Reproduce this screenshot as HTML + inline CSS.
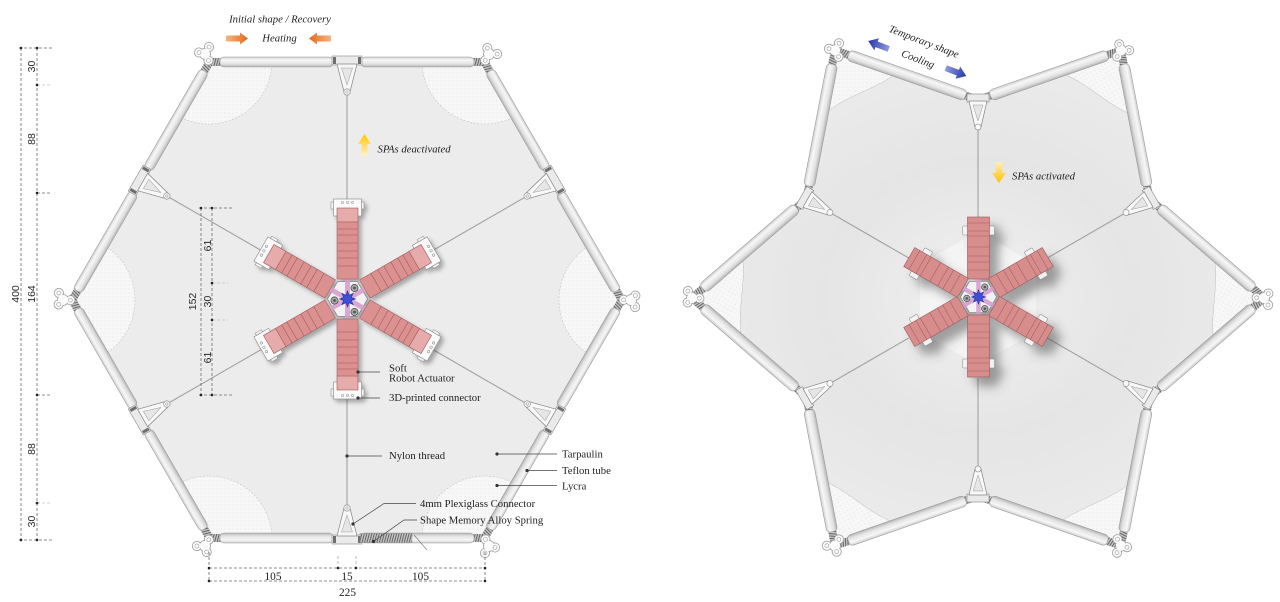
<!DOCTYPE html>
<html><head><meta charset="utf-8"><style>
html,body{margin:0;padding:0;background:#fff;}
svg{display:block}
.lab{font-family:"Liberation Serif",serif;font-size:10.7px;fill:#1e1e1e}
.it{font-style:italic}
.dim{font-family:"Liberation Sans",sans-serif;font-size:10.5px;fill:#2a2a2a}
.dn{font-family:"Liberation Serif",serif;font-size:11.3px;fill:#1e1e1e}
</style></head><body>
<svg width="1280" height="602" viewBox="0 0 1280 602" xmlns="http://www.w3.org/2000/svg">
<defs>
<linearGradient id="tube" x1="0" y1="0" x2="0" y2="1">
 <stop offset="0" stop-color="#cfcfcf"/><stop offset=".3" stop-color="#f7f7f7"/><stop offset=".7" stop-color="#e2e2e2"/><stop offset="1" stop-color="#b2b2b2"/>
</linearGradient>
<pattern id="hatch" width="2.4" height="12" patternUnits="userSpaceOnUse" patternTransform="rotate(15)">
 <rect width="2.4" height="12" fill="#c4c4c4"/><rect width="0.9" height="12" fill="#5a5a5a"/>
</pattern>
<pattern id="lyc" width="4" height="4" patternUnits="userSpaceOnUse">
 <rect width="4" height="4" fill="#f7f7f7"/><circle cx="1" cy="1" r="0.6" fill="#e6e6e6"/>
</pattern>
<linearGradient id="orR" x1="0" y1="0" x2="1" y2="0"><stop offset="0" stop-color="#f6b482"/><stop offset="1" stop-color="#e5691a"/></linearGradient>
<linearGradient id="orL" x1="1" y1="0" x2="0" y2="0"><stop offset="0" stop-color="#f6b482"/><stop offset="1" stop-color="#e5691a"/></linearGradient>
<linearGradient id="yUp" x1="0" y1="0" x2="0" y2="1"><stop offset="0" stop-color="#ffc400"/><stop offset="1" stop-color="#fff4c8"/></linearGradient>
<linearGradient id="yDn" x1="0" y1="0" x2="0" y2="1"><stop offset="0" stop-color="#fff0b8"/><stop offset="1" stop-color="#ffbf00"/></linearGradient>
<linearGradient id="blu" x1="0" y1="0" x2="1" y2="0"><stop offset="0" stop-color="#8e9be0"/><stop offset="1" stop-color="#2436a8"/></linearGradient>
<radialGradient id="memR" cx="0.5" cy="0.5" r="0.5"><stop offset="0" stop-color="#f0f0f0"/><stop offset="0.55" stop-color="#e5e5e5"/><stop offset="1" stop-color="#ebebeb"/></radialGradient>
<filter id="shL" x="-20%" y="-20%" width="140%" height="140%"><feDropShadow dx="3" dy="3" stdDeviation="2" flood-color="#000" flood-opacity="0.3"/></filter>
<filter id="shR" x="-30%" y="-30%" width="160%" height="160%"><feDropShadow dx="9" dy="9" stdDeviation="5" flood-color="#444" flood-opacity="0.5"/></filter>
<clipPath id="hexclip"><polygon points="623,300 485,61 209,61 71,300 209,539 485,539"/></clipPath>

<g id="lobe">
 <g fill="#fbfbfb" stroke="#9a9a9a" stroke-width="0.8">
  <circle cx="-6" cy="-1.5" r="4.6"/><circle cx="4" cy="-7" r="4.6"/><circle cx="3.5" cy="6.5" r="4.6"/><circle r="5.5"/>
 </g>
 <g fill="#fbfbfb"><circle cx="-6" cy="-1.5" r="3.9"/><circle cx="4" cy="-7" r="3.9"/><circle cx="3.5" cy="6.5" r="3.9"/><circle r="5"/></g>
 <g fill="none" stroke="#9a9a9a" stroke-width="0.6"><circle cx="-6" cy="-1.5" r="2"/><circle cx="4" cy="-7" r="2"/><circle cx="3.5" cy="6.5" r="2"/></g>
</g>

<g id="Ls">
 <line x1="0" y1="-206" x2="0" y2="-99" stroke="#a2a2a2" stroke-width="1.1"/>
 <rect x="-137" y="-242" width="11" height="8" fill="url(#hatch)"/>
 <rect x="126" y="-242" width="11" height="8" fill="url(#hatch)"/>
 <rect x="-127" y="-243" width="113" height="10" rx="4" fill="url(#tube)" stroke="#9c9c9c" stroke-width="0.6"/>
 <rect x="14" y="-243" width="113" height="10" rx="4" fill="url(#tube)" stroke="#9c9c9c" stroke-width="0.6"/>
 <rect x="-15" y="-244" width="30" height="9" fill="#eaeaea" stroke="#858585" stroke-width="0.6"/>
 <rect x="-14" y="-243" width="3" height="7" fill="#6e6e6e"/>
 <rect x="11" y="-243" width="3" height="7" fill="#6e6e6e"/>
 <path d="M-10,-236 L10,-236 L3.2,-209 L-3.2,-209 Z" fill="#f8f8f8" stroke="#858585" stroke-width="0.7"/>
 <path d="M-5.5,-232 L5.5,-232 L0,-215 Z" fill="#e6e6e6" stroke="#9a9a9a" stroke-width="0.5"/>
 <circle cx="0" cy="-208" r="3.2" fill="#f8f8f8" stroke="#858585" stroke-width="0.6"/>
 <circle cx="0" cy="-208" r="1.2" fill="none" stroke="#858585" stroke-width="0.5"/>
</g>

<g id="La">
 <rect x="-14" y="-100" width="28" height="17" fill="#fafafa" stroke="#868686" stroke-width="0.6"/>
 <rect x="-16.5" y="-97" width="2.5" height="7" fill="#f3f3f3" stroke="#868686" stroke-width="0.5"/>
 <rect x="14" y="-97" width="2.5" height="7" fill="#f3f3f3" stroke="#868686" stroke-width="0.5"/>
 <g fill="none" stroke="#808080" stroke-width="0.5"><circle cx="-5" cy="-96.5" r="1.2"/><circle cx="0" cy="-96.5" r="1.2"/><circle cx="5" cy="-96.5" r="1.2"/></g>
 <rect x="-10.5" y="-91" width="21" height="71" fill="#dc9191" stroke="#a06060" stroke-width="0.6"/>
 <rect x="-10" y="-90.5" width="20" height="13" fill="#e6acac"/>
 <g stroke="#9a5454" stroke-width="0.55">
  <line x1="-10.5" y1="-77" x2="10.5" y2="-77"/>
  <line x1="-10.5" y1="-70" x2="10.5" y2="-70"/>
  <line x1="-10.5" y1="-64" x2="10.5" y2="-64"/>
  <line x1="-10.5" y1="-56" x2="10.5" y2="-56"/>
  <line x1="-10.5" y1="-48" x2="10.5" y2="-48"/>
  <line x1="-10.5" y1="-41" x2="10.5" y2="-41"/>
  <line x1="-10.5" y1="-33" x2="10.5" y2="-33"/>
 </g>
</g>

<g id="Rs">
 <line x1="0" y1="-170" x2="0" y2="-80" stroke="#a2a2a2" stroke-width="1.1"/>
 <g transform="translate(-71,-222.7) rotate(19.16)">
  <rect x="-71" y="-4" width="10" height="8" fill="url(#hatch)"/>
  <rect x="61" y="-4" width="9" height="8" fill="url(#hatch)"/>
  <rect x="-62" y="-5.5" width="124" height="11" rx="4" fill="url(#tube)" stroke="#9c9c9c" stroke-width="0.6"/>
 </g>
 <g transform="translate(71,-222.7) rotate(-19.16)">
  <rect x="-70" y="-4" width="9" height="8" fill="url(#hatch)"/>
  <rect x="61" y="-4" width="10" height="8" fill="url(#hatch)"/>
  <rect x="-62" y="-5.5" width="124" height="11" rx="4" fill="url(#tube)" stroke="#9c9c9c" stroke-width="0.6"/>
 </g>
 <rect x="-11" y="-204" width="22" height="8" fill="#eaeaea" stroke="#858585" stroke-width="0.6"/>
 <path d="M-9,-197 L9,-197 L3,-171 L-3,-171 Z" fill="#f8f8f8" stroke="#858585" stroke-width="0.7"/>
 <path d="M-5,-193 L5,-193 L0,-177 Z" fill="#e6e6e6" stroke="#9a9a9a" stroke-width="0.5"/>
 <circle cx="0" cy="-171" r="3" fill="#f8f8f8" stroke="#858585" stroke-width="0.6"/>
</g>

<g id="Rl">
 <path d="M-142,-246 L-81.4,-225.5 C-98,-210 -132,-203 -154.6,-183.2 Z" fill="url(#lyc)" stroke="#bdbdbd" stroke-width="0.5"/>
</g>

<g id="Ra">
 <rect x="-16" y="-71" width="32" height="9" rx="1" fill="#f2f2f2" stroke="#858585" stroke-width="0.5"/>
 <rect x="-11" y="-80" width="22" height="62" fill="#d88d8d" stroke="#9a5858" stroke-width="0.6"/>
 <g stroke="#a35e5e" stroke-width="0.6">
  <line x1="-11" y1="-74" x2="11" y2="-74"/>
  <line x1="-11" y1="-66" x2="11" y2="-66"/>
  <line x1="-11" y1="-61" x2="11" y2="-61"/>
  <line x1="-11" y1="-50" x2="11" y2="-50"/>
  <line x1="-11" y1="-41" x2="11" y2="-41"/>
  <line x1="-11" y1="-35" x2="11" y2="-35"/>
  <line x1="-11" y1="-27" x2="11" y2="-27"/>
 </g>
</g>

<g id="hub">
 <polygon points="20,0 10,17.3 -10,17.3 -20,0 -10,-17.3 10,-17.3" fill="#f3f1f4" stroke="#7a7a7a" stroke-width="0.7"/>
 <g stroke="#d59ccd" stroke-width="5" opacity="0.85">
  <line x1="0" y1="-19" x2="0" y2="19"/>
  <line x1="-16.5" y1="-9.5" x2="16.5" y2="9.5"/>
  <line x1="-16.5" y1="9.5" x2="16.5" y2="-9.5"/>
 </g>
 <g fill="#a8a8a8" stroke="#444" stroke-width="0.7">
  <circle cx="7" cy="-11" r="3.6"/><circle cx="-13" cy="1.5" r="3.6"/><circle cx="7" cy="13" r="3.6"/>
 </g>
 <g fill="#555"><circle cx="7" cy="-11" r="1.4"/><circle cx="-13" cy="1.5" r="1.4"/><circle cx="7" cy="13" r="1.4"/></g>
 <polygon points="8,0 3.7,1.53 5.66,5.66 1.53,3.7 0,8 -1.53,3.7 -5.66,5.66 -3.7,1.53 -8,0 -3.7,-1.53 -5.66,-5.66 -1.53,-3.7 0,-8 1.53,-3.7 5.66,-5.66 3.7,-1.53" fill="#3e4fd6" stroke="#222f9a" stroke-width="0.6"/>
</g>
</defs>

<rect width="1280" height="602" fill="#fff"/>

<!-- ================= LEFT FIGURE ================= -->
<polygon points="623,300 485,61 209,61 71,300 209,539 485,539" fill="#ececec"/>
<g clip-path="url(#hexclip)" fill="url(#lyc)" stroke="#c4c4c4" stroke-width="0.6" stroke-dasharray="2,1.5">
 <circle cx="623" cy="300" r="64"/>
 <circle cx="485" cy="61" r="63"/>
 <circle cx="209" cy="61" r="63"/>
 <circle cx="71" cy="300" r="64"/>
 <circle cx="209" cy="539" r="63"/>
 <circle cx="485" cy="539" r="63"/>
</g>
<use href="#Ls" transform="translate(347,300)"/>
<use href="#Ls" transform="translate(347,300) rotate(60)"/>
<use href="#Ls" transform="translate(347,300) rotate(120)"/>
<use href="#Ls" transform="translate(347,300) rotate(180)"/>
<use href="#Ls" transform="translate(347,300) rotate(240)"/>
<use href="#Ls" transform="translate(347,300) rotate(300)"/>
<!-- SMA spring -->
<rect x="360" y="533.5" width="52" height="9" fill="url(#hatch)" stroke="#888" stroke-width="0.4"/>
<line x1="414" y1="535" x2="427" y2="550" stroke="#777" stroke-width="0.6"/>

<use href="#lobe" transform="translate(347,300) translate(-142,-246)"/>
<use href="#lobe" transform="translate(347,300) rotate(60) translate(-142,-246)"/>
<use href="#lobe" transform="translate(347,300) rotate(120) translate(-142,-246)"/>
<use href="#lobe" transform="translate(347,300) rotate(180) translate(-142,-246)"/>
<use href="#lobe" transform="translate(347,300) rotate(240) translate(-142,-246)"/>
<use href="#lobe" transform="translate(347,300) rotate(300) translate(-142,-246)"/>

<g filter="url(#shL)">
 <use href="#La" transform="translate(347.5,299)"/>
 <use href="#La" transform="translate(347.5,299) rotate(60)"/>
 <use href="#La" transform="translate(347.5,299) rotate(120)"/>
 <use href="#La" transform="translate(347.5,299) rotate(180)"/>
 <use href="#La" transform="translate(347.5,299) rotate(240)"/>
 <use href="#La" transform="translate(347.5,299) rotate(300)"/>
 <use href="#hub" transform="translate(347.5,299)"/>
</g>

<!-- top annotations -->
<text class="lab it" x="280" y="22.5" text-anchor="middle" font-size="10">Initial shape / Recovery</text>
<text class="lab it" x="279.5" y="41.5" text-anchor="middle" font-size="10">Heating</text>
<path d="M226,35.5 H240 V32.5 L248,38.5 L240,44.5 V41.5 H226 Z" fill="url(#orR)"/>
<path d="M331,35.5 H317 V32.5 L309,38.5 L317,44.5 V41.5 H331 Z" fill="url(#orL)"/>
<path d="M358,144 L364.5,134 L371,144 L367.5,144 L367.5,156 L361.5,156 L361.5,144 Z" fill="url(#yUp)"/>
<text class="lab it" x="377.5" y="152.5" font-size="10">SPAs deactivated</text>

<!-- left dimensions -->
<g stroke="#6a6a6a" stroke-width="0.8" stroke-dasharray="3,2" fill="none">
 <line x1="21" y1="48" x2="21" y2="540"/>
 <line x1="37" y1="48" x2="37" y2="540"/>
 <line x1="19" y1="48" x2="52" y2="48"/>
 <line x1="19" y1="540" x2="52" y2="540"/>
 <line x1="37" y1="85" x2="50" y2="85" stroke="#c2c2c2"/>
 <line x1="37" y1="193" x2="52" y2="193"/>
 <line x1="37" y1="395" x2="52" y2="395"/>
 <line x1="37" y1="503" x2="50" y2="503" stroke="#c2c2c2"/>
 <line x1="201" y1="208" x2="201" y2="395"/>
 <line x1="212" y1="208" x2="212" y2="395"/>
 <line x1="199" y1="208" x2="232" y2="208"/>
 <line x1="199" y1="395" x2="232" y2="395"/>
 <line x1="212" y1="283" x2="228" y2="283" stroke="#c2c2c2"/>
 <line x1="212" y1="320" x2="228" y2="320" stroke="#c2c2c2"/>
 <line x1="209" y1="552" x2="209" y2="582"/>
 <line x1="485" y1="552" x2="485" y2="582"/>
 <line x1="338" y1="556" x2="338" y2="569" stroke="#aaa"/>
 <line x1="356" y1="556" x2="356" y2="569" stroke="#aaa"/>
 <line x1="209" y1="568" x2="485" y2="568"/>
 <line x1="209" y1="581" x2="485" y2="581"/>
</g>
<g fill="#222">
 <circle cx="21" cy="48" r="1.3"/><circle cx="21" cy="540" r="1.3"/>
 <circle cx="37" cy="48" r="1.3"/><circle cx="37" cy="85" r="1.3"/><circle cx="37" cy="193" r="1.3"/>
 <circle cx="37" cy="395" r="1.3"/><circle cx="37" cy="503" r="1.3"/><circle cx="37" cy="540" r="1.3"/>
 <circle cx="201" cy="208" r="1.3"/><circle cx="201" cy="395" r="1.3"/>
 <circle cx="212" cy="208" r="1.3"/><circle cx="212" cy="283" r="1.3"/><circle cx="212" cy="320" r="1.3"/><circle cx="212" cy="395" r="1.3"/>
 <circle cx="209" cy="568" r="1.3"/><circle cx="338" cy="568" r="1.3"/><circle cx="356" cy="568" r="1.3"/><circle cx="485" cy="568" r="1.3"/>
 <circle cx="209" cy="581" r="1.3"/><circle cx="485" cy="581" r="1.3"/>
</g>
<g class="dim" text-anchor="middle">
 <text transform="translate(19,294) rotate(-90)">400</text>
 <text transform="translate(35,294) rotate(-90)">164</text>
 <text transform="translate(35,66.5) rotate(-90)">30</text>
 <text transform="translate(35,139) rotate(-90)">88</text>
 <text transform="translate(35,449) rotate(-90)">88</text>
 <text transform="translate(35,521.5) rotate(-90)">30</text>
 <text transform="translate(196,301.5) rotate(-90)">152</text>
 <text transform="translate(211,245.5) rotate(-90)">61</text>
 <text transform="translate(211,301.5) rotate(-90)">30</text>
 <text transform="translate(211,357.5) rotate(-90)">61</text>
</g>
<g class="dn" text-anchor="middle">
 <text x="273" y="580">105</text>
 <text x="347" y="580">15</text>
 <text x="420.5" y="580">105</text>
 <text x="347.5" y="596">225</text>
</g>

<!-- leaders -->
<g stroke="#444" stroke-width="0.7" fill="none">
 <line x1="358" y1="372" x2="380" y2="372"/>
 <line x1="358" y1="398" x2="380" y2="398"/>
 <line x1="347" y1="456" x2="382" y2="456"/>
 <line x1="497" y1="454" x2="557" y2="454"/>
 <line x1="527" y1="470.5" x2="557" y2="470.5"/>
 <line x1="497" y1="485.5" x2="557" y2="485.5"/>
 <polyline points="353,524 384,503.5 416,503.5"/>
 <polyline points="373.5,541.5 404,520 417,520"/>
</g>
<g fill="#333">
 <circle cx="358" cy="372" r="1.6"/><circle cx="358" cy="398" r="1.6"/><circle cx="347" cy="456" r="1.6"/>
 <circle cx="497" cy="454" r="1.6"/><circle cx="527" cy="470.5" r="1.6"/><circle cx="497" cy="485.5" r="1.6"/>
 <circle cx="353" cy="524" r="1.6"/><circle cx="373.5" cy="541.5" r="1.6"/>
</g>
<g class="lab">
 <text x="389" y="371.5">Soft</text>
 <text x="389" y="381.5">Robot Actuator</text>
 <text x="389" y="401">3D-printed connector</text>
 <text x="389" y="459">Nylon thread</text>
 <text x="562" y="457.5">Tarpaulin</text>
 <text x="562" y="474">Teflon tube</text>
 <text x="562" y="489.5">Lycra</text>
 <text x="420" y="507">4mm Plexiglass Connector</text>
 <text x="420" y="523.5">Shape Memory Alloy Spring</text>
</g>

<!-- ================= RIGHT FIGURE ================= -->
<polygon points="1262,298 1149.5,199 1120,52 978,100 836,52 806.5,199 694,298 806.5,397 836,544 978,496 1120,544 1149.5,397" fill="url(#memR)"/>
<use href="#Rl" transform="translate(978,298)"/>
<use href="#Rl" transform="translate(978,298) rotate(60)"/>
<use href="#Rl" transform="translate(978,298) rotate(120)"/>
<use href="#Rl" transform="translate(978,298) rotate(180)"/>
<use href="#Rl" transform="translate(978,298) rotate(240)"/>
<use href="#Rl" transform="translate(978,298) rotate(300)"/>
<polygon points="1036,264.5 978,231 920,264.5 920,331.5 978,365 1036,331.5" fill="#f5f5f5" opacity="0.9"/>
<use href="#Rs" transform="translate(978,298)"/>
<use href="#Rs" transform="translate(978,298) rotate(60)"/>
<use href="#Rs" transform="translate(978,298) rotate(120)"/>
<use href="#Rs" transform="translate(978,298) rotate(180)"/>
<use href="#Rs" transform="translate(978,298) rotate(240)"/>
<use href="#Rs" transform="translate(978,298) rotate(300)"/>
<use href="#lobe" transform="translate(978,298) translate(-143,-247.7)"/>
<use href="#lobe" transform="translate(978,298) rotate(60) translate(-143,-247.7)"/>
<use href="#lobe" transform="translate(978,298) rotate(120) translate(-143,-247.7)"/>
<use href="#lobe" transform="translate(978,298) rotate(180) translate(-143,-247.7)"/>
<use href="#lobe" transform="translate(978,298) rotate(240) translate(-143,-247.7)"/>
<use href="#lobe" transform="translate(978,298) rotate(300) translate(-143,-247.7)"/>

<g filter="url(#shR)">
 <use href="#Ra" transform="translate(978.5,297)"/>
 <use href="#Ra" transform="translate(978.5,297) rotate(60)"/>
 <use href="#Ra" transform="translate(978.5,297) rotate(120)"/>
 <use href="#Ra" transform="translate(978.5,297) rotate(180)"/>
 <use href="#Ra" transform="translate(978.5,297) rotate(240)"/>
 <use href="#Ra" transform="translate(978.5,297) rotate(300)"/>
 <use href="#hub" transform="translate(978.5,297) scale(0.9)"/>
</g>

<path d="M-11,-3 H2 V-6.5 L11,0 L2,6.5 V3 H-11 Z" fill="url(#blu)" transform="translate(878.5,45) rotate(201)"/>
<path d="M-11,-3 H2 V-6.5 L11,0 L2,6.5 V3 H-11 Z" fill="url(#blu)" transform="translate(956,72) rotate(21)"/>
<text class="lab it" font-size="10" text-anchor="middle" transform="translate(924,41.5) rotate(21)" y="3.5">Temporary shape</text>
<text class="lab it" font-size="10" text-anchor="middle" transform="translate(918,59) rotate(21)" y="3.5">Cooling</text>
<path d="M992,173 L995.5,173 L995.5,162 L1002.5,162 L1002.5,173 L1006,173 L999,183 Z" fill="url(#yDn)"/>
<text class="lab it" x="1012" y="179.5" font-size="10">SPAs activated</text>
</svg>
</body></html>
